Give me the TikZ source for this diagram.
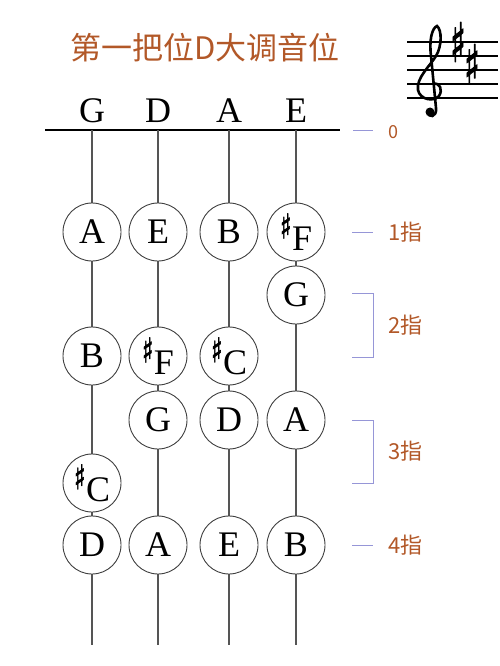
\documentclass[tikz,border=0pt]{standalone}
\usepackage{fontspec}
\setmainfont{Liberation Serif}
\newfontfamily\cjk{Noto Sans CJK SC}
\newfontfamily\symb[FakeBold=2]{DejaVu Sans}
\usetikzlibrary{positioning}
\definecolor{titleBrown}{RGB}{178,88,40}
\definecolor{tickBlue}{RGB}{150,150,215}
\definecolor{stringGray}{RGB}{85,85,85}

% sharp note inside a circle
\newcommand{\shp}[1]{\raisebox{6pt}{\scalebox{0.7}[1]{\symb\fontsize{34}{34}\selectfont ♯}}\kern0.5pt\raisebox{-6pt}{#1}}

\begin{document}
\begin{tikzpicture}[
    x=1pt, y=-1pt,
    note/.style={circle, draw=black!75, line width=0.9pt, fill=white, minimum size=58pt, inner sep=0pt, font=\fontsize{36}{36}\selectfont},
    strname/.style={anchor=base, font=\fontsize{36}{36}\selectfont},
    string/.style={draw=stringGray, line width=1.4pt},
    tick/.style={draw=tickBlue, line width=1pt},
    finger/.style={anchor=west, text=titleBrown, font=\cjk\fontsize{22}{22}\selectfont},
    keysharp/.style={font=\symb\fontsize{54}{54}\selectfont, xscale=0.6, transform shape}
]
\useasboundingbox (0,0) rectangle (500,666);

% Title
\node[text=titleBrown, font=\cjk\fontsize{31}{31}\selectfont] (title) at (205,48) {第一把位D大调音位};

% Key signature
\foreach \y in {42,56,70,84,98}
  \draw[line width=1.3pt] (407,\y) -- (498,\y);
\draw[line width=2.6pt, line cap=round] (433,84) .. controls (440,82) and (443,90) .. (439,96)
  .. controls (434,102) and (420,100) .. (418,90)
  .. controls (416,78) and (430,66) .. (436,56)
  .. controls (442,46) and (442,30) .. (437,26)
  .. controls (432,28) and (429,40) .. (431,56)
  -- (436,108)
  .. controls (437,118) and (428,118) .. (428,112);
\fill (430,112) circle (4.5pt);
\node[keysharp] (fsharp) at (458,42) {♯};
\node[keysharp] (csharp) at (472,64) {♯};

% Nut and strings
\coordinate (nutL) at (45,130);
\coordinate (nutR) at (340,130);
\draw[line width=1.4pt] (nutL) -- (nutR);
\foreach \s/\x in {g/92, d/158, a/229, e/296} {
  \coordinate (\s Top) at (\x,130);
  \coordinate (\s Bot) at (\x,645);
  \draw[string] (\s Top) -- (\s Bot);
}

% String names
\node[strname] (gName) at (92,123) {G};
\node[strname] (dName) at (158,123) {D};
\node[strname] (aName) at (229,123) {A};
\node[strname] (eName) at (296,123) {E};

% 1st finger
\node[note] (gA) at (92,232) {A};
\node[note] (dE) at (158,232) {E};
\node[note] (aB) at (229,232) {B};
\node[note] (eFs) at (296,232) {\shp{F}};

% 2nd finger
\node[note] (eG) at (296,295) {G};
\node[note] (gB) at (92,356) {B};
\node[note] (dFs) at (158,356) {\shp{F}};
\node[note] (aCs) at (229,356) {\shp{C}};

% 3rd finger
\node[note] (dG) at (158,420) {G};
\node[note] (aD) at (229,420) {D};
\node[note] (eA) at (296,420) {A};
\node[note] (gCs) at (92,483) {\shp{C}};

% 4th finger
\node[note] (gD) at (92,545) {D};
\node[note] (dA) at (158,545) {A};
\node[note] (aE) at (229,545) {E};
\node[note] (eB) at (296,545) {B};

% Finger labels
\node[finger, font=\cjk\fontsize{18}{18}\selectfont] (f0) at (385,132) {0};
\node[finger] (f1) at (385,232) {1指};
\node[finger] (f2) at (385,325) {2指};
\node[finger] (f3) at (385,451) {3指};
\node[finger] (f4) at (385,545) {4指};
\draw[tick] (353,130) -- (373,130);
\draw[tick] (352,232) -- (373,232);
\draw[tick] (352,293) -- (373,293) -- (373,357) -- (352,357);
\draw[tick] (352,420) -- (373,420) -- (373,483) -- (352,483);
\draw[tick] (352,545) -- (373,545);

\end{tikzpicture}
\end{document}
